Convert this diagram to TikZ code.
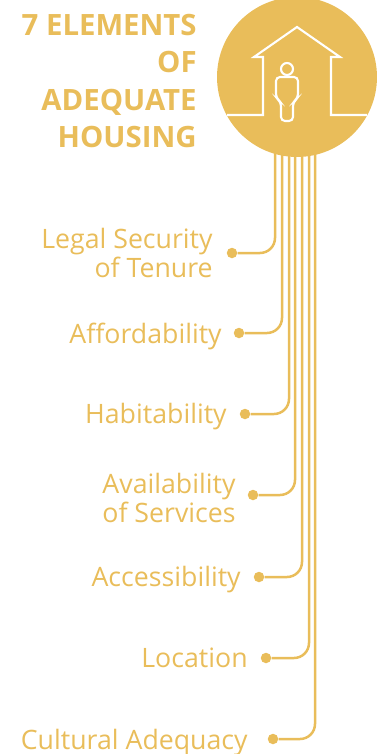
\documentclass[tikz,border=0pt]{standalone}
\usepackage{fontspec}
\setmainfont{Open Sans}
\definecolor{housinggold}{HTML}{E9BD5A}
\tikzset{
  seal/.style={circle,fill=housinggold,inner sep=0,minimum size=3.2cm},
  dot/.style={circle,fill=housinggold,inner sep=0,minimum size=.21cm},
  branch/.style={draw=housinggold,line width=.5mm,rounded corners=.3cm},
  outline/.style={draw=white,line width=.42mm},
  title/.style={text=housinggold,font=\bfseries\fontsize{16.7}{21.2}\selectfont,align=right,inner sep=0},
  label/.style={text=housinggold,font=\fontsize{15.2}{16}\selectfont,inner sep=0}
}
\begin{document}
\begin{tikzpicture}[x=.02cm,y=-.02cm]%seven elements, one line to each
\clip (0,0) rectangle (385,754);
\node[seal] (disc) at (297,77){};
\node[title,anchor=east] (heading) at (197,81){7 ELEMENTS\\OF\\ADEQUATE\\HOUSING};
\draw[outline] (227,115) -- (263,115) -- (263,57) -- (254,57) -- (297,27) -- (340,57) -- (331,57) -- (331,115) -- (367,115);
\draw[outline] (287,69) circle (6);
\draw[outline,rounded corners=.08cm] (281,102) -- (276,98) -- (276,77) -- (298,77) -- (298,98) -- (293,102) -- (293,121) -- (281,121) -- cycle;
\coordinate (top1) at (275,150);
\coordinate (top2) at (282,150);
\coordinate (top3) at (289,150);
\coordinate (top4) at (295,150);
\coordinate (top5) at (302,150);
\coordinate (top6) at (309,150);
\coordinate (top7) at (315,150);
\node[dot] (legal) at (232,253){};
\node[dot] (afford) at (239,333){};
\node[dot] (habit) at (245,414){};
\node[dot] (avail) at (253,495){};
\node[dot] (access) at (259,577){};
\node[dot] (place) at (266,658){};
\node[dot] (culture) at (273,739){};
\draw[branch] (top1) |- (legal);
\draw[branch] (top2) |- (afford);
\draw[branch] (top3) |- (habit);
\draw[branch] (top4) |- (avail);
\draw[branch] (top5) |- (access);
\draw[branch] (top6) |- (place);
\draw[branch] (top7) |- (culture);
\node[label,anchor=east,align=right] (legaltext) at (213,253){Legal Security\\of Tenure};
\node[label,anchor=east] (affordtext) at (222,336){Affordability};
\node[label,anchor=east] (habittext) at (227,417){Habitability};
\node[label,align=center] (availtext) at (169,498){Availability\\of Services};
\node[label,anchor=east] (accesstext) at (241,580){Accessibility};
\node[label,anchor=east] (placetext) at (248,658){Location};
\node[label,anchor=east] (culturetext) at (248,743){Cultural Adequacy};
\end{tikzpicture}
\end{document}
